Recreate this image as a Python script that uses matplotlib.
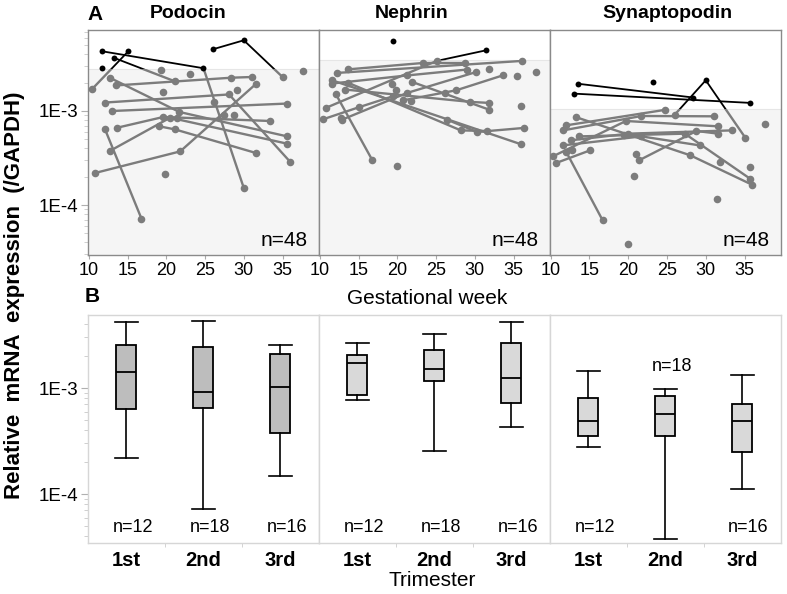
import matplotlib
matplotlib.use("Agg")
import matplotlib.pyplot as plt
from matplotlib.patches import Rectangle
from matplotlib.ticker import FixedLocator, NullFormatter, LogLocator
import matplotlib.transforms as mtransforms

plt.rcParams['font.family'] = ['Liberation Sans', 'DejaVu Sans']

# ---- panel A: paired samples per fetus (gestational week, expression) ----
genes = ["Podocin", "Nephrin", "Synaptopodin"]

pod_weeks = [[11.7, 24.8, 30.0], [13.2, 21.1], [10.4, 15.1], [26.0, 30.0, 35.0],
             [12.7, 21.7, 35.6], [13.5, 28.4, 31.1], [12.1, 28.1, 36.0], [13.0, 35.6],
             [13.7, 19.6, 33.4], [12.1, 16.8], [12.7, 20.5, 35.6], [10.8, 21.8, 31.6],
             [19.1, 21.1, 31.6]]
pod_values = [[4.32e-3, 2.85e-3, 1.52e-4], [3.69e-3, 2.07e-3], [1.70e-3, 4.32e-3],
              [4.53e-3, 5.65e-3, 2.30e-3], [2.26e-3, 9.76e-4, 5.37e-4],
              [1.87e-3, 2.26e-3, 2.30e-3], [1.23e-3, 1.50e-3, 2.87e-4], [1.0e-3, 1.20e-3],
              [6.65e-4, 8.63e-4, 7.83e-4], [6.38e-4, 7.16e-5], [3.75e-4, 8.49e-4, 4.49e-4],
              [2.19e-4, 3.72e-4, 1.95e-3], [6.87e-4, 6.38e-4, 3.57e-4]]
pod_single_wk = [11.7, 19.3, 23.1, 37.6, 19.6, 26.1, 28.8, 21.4, 19.9, 27.4, 29.1]
pod_single_val = [2.85e-3, 2.71e-3, 2.49e-3, 2.64e-3, 1.59e-3, 1.25e-3, 9.14e-4,
                  8.49e-4, 2.15e-4, 9.14e-4, 1.69e-3]

neph_weeks = [[13.6, 23.3, 28.7], [12.2, 36.1], [10.8, 25.1, 31.4], [11.6, 21.3, 29.0],
              [13.3, 29.4, 31.8], [11.6, 36.0], [13.7, 28.2, 31.6], [12.1, 16.8],
              [10.4, 15.1, 19.4], [12.9, 21.2, 30.2], [20.8, 27.6, 33.6], [21.9, 31.9],
              [26.4, 30.3, 36.3]]
neph_values = [[2.77e-3, 3.24e-3, 3.24e-3], [2.54e-3, 3.41e-3], [1.08e-3, 3.41e-3, 4.41e-3],
               [1.96e-3, 2.39e-3, 2.76e-3], [1.69e-3, 1.25e-3, 1.22e-3], [2.12e-3, 4.42e-4],
               [1.99e-3, 6.22e-4, 6.13e-4], [1.50e-3, 2.98e-4], [8.15e-4, 1.10e-3, 1.43e-3],
               [8.10e-4, 1.55e-3, 2.60e-3], [1.30e-3, 1.66e-3, 2.39e-3], [2.04e-3, 1.03e-3],
               [8.10e-4, 5.98e-4, 6.60e-4]]
neph_single_wk = [19.5, 37.9, 35.4, 36.0, 20.0, 21.8, 12.7, 26.1, 19.9, 31.8, 19.3]
neph_single_val = [5.56e-3, 2.60e-3, 2.34e-3, 1.14e-3, 2.60e-4, 1.27e-3, 8.49e-4,
                   1.55e-3, 1.66e-3, 2.82e-3, 1.96e-3]

syn_weeks = [[13.5, 28.4], [13.0, 35.7], [26.0, 30.0, 35.1], [13.2, 28.0, 36.0],
             [12.0, 24.8], [11.6, 21.7, 31.1], [10.3, 19.7, 31.6], [10.7, 15.1],
             [12.6, 20.0, 33.4], [13.7, 27.3, 35.7], [12.0, 16.7], [11.6, 21.7, 29.2],
             [21.4, 28.8, 31.6]]
syn_values = [[1.95e-3, 1.39e-3], [1.53e-3, 1.22e-3], [9.14e-4, 2.12e-3, 5.20e-4],
              [8.63e-4, 3.38e-4, 1.64e-4], [7.04e-4, 1.03e-3], [6.22e-4, 8.85e-4, 8.78e-4],
              [3.30e-4, 7.83e-4, 6.87e-4], [2.80e-4, 3.82e-4], [4.88e-4, 5.74e-4, 6.22e-4],
              [5.37e-4, 5.74e-4, 1.91e-4], [3.67e-4, 6.87e-5], [4.31e-4, 5.37e-4, 4.31e-4],
              [2.99e-4, 6.13e-4, 5.74e-4]]
syn_single_wk = [23.2, 37.7, 35.7, 20.8, 31.4, 20.0, 31.8, 21.0, 19.4, 12.7]
syn_single_val = [2.02e-3, 7.33e-4, 2.53e-4, 2.02e-4, 1.15e-4, 3.88e-5, 2.86e-4,
                  3.46e-4, 5.51e-4, 3.82e-4]

# upper limit of the shaded (reference) range in each panel
ref_upper = [2.8e-3, 3.5e-3, 1.06e-3]
n_total = [48, 48, 48]

# ---- panel B: box plots per trimester ----
trimesters = ["1st", "2nd", "3rd"]
pod_box = dict(lo=[2.17e-4, 7.18e-5, 1.49e-4], q1=[6.29e-4, 6.52e-4, 3.79e-4],
               med=[1.43e-3, 9.1e-4, 1.03e-3], q3=[2.55e-3, 2.42e-3, 2.09e-3],
               hi=[4.17e-3, 4.25e-3, 2.53e-3])
neph_box = dict(lo=[7.66e-4, 2.53e-4, 4.29e-4], q1=[8.59e-4, 1.16e-3, 7.18e-4],
                med=[1.73e-3, 1.51e-3, 1.24e-3], q3=[2.03e-3, 2.27e-3, 2.67e-3],
                hi=[2.67e-3, 3.25e-3, 4.22e-3])
syn_box = dict(lo=[2.76e-4, 3.78e-5, 1.11e-4], q1=[3.53e-4, 3.53e-4, 2.51e-4],
               med=[4.92e-4, 5.69e-4, 4.92e-4], q3=[8.0e-4, 8.4e-4, 7.02e-4],
               hi=[1.46e-3, 9.8e-4, 1.33e-3])
n_trim = [12, 18, 16]
n_label_y = [[0.066, 0.066, 0.066], [0.066, 0.066, 0.066], [0.066, 0.776, 0.07]]
box_colors = ["#bdbdbd", "#d9d9d9", "#d9d9d9"]

GRAY = "#7c7c7c"

fig = plt.figure(figsize=(7.87, 5.94), dpi=100)
lefts = [0.1118, 0.4053, 0.6988]
w = 0.2935

line_data = [(pod_weeks, pod_values, pod_single_wk, pod_single_val),
             (neph_weeks, neph_values, neph_single_wk, neph_single_val),
             (syn_weeks, syn_values, syn_single_wk, syn_single_val)]

YA = (2.94e-5, 7.27e-3)
XA = (9.9, 39.7)

for i, (wk, vals, swk, sval) in enumerate(line_data):
    ax = fig.add_axes([lefts[i], 0.5707, w, 0.3788])
    ax.set_yscale('log')
    ax.set_ylim(*YA)
    ax.set_xlim(*XA)
    thr = ref_upper[i]
    ax.axhspan(YA[0], thr, color='#f5f5f5', zorder=0, lw=0)
    ax.axhline(thr, color='#e6e6e6', lw=0.8, zorder=0.5)

    clip_lo = Rectangle((XA[0], YA[0]), XA[1] - XA[0], thr - YA[0], transform=ax.transData)
    clip_hi = Rectangle((XA[0], thr), XA[1] - XA[0], YA[1] - thr, transform=ax.transData)
    for x, y in zip(wk, vals):
        l1, = ax.plot(x, y, color=GRAY, lw=1.7, zorder=2)
        l1.set_clip_path(clip_lo)
        l2, = ax.plot(x, y, color='black', lw=1.3, zorder=2)
        l2.set_clip_path(clip_hi)

    all_x = [a for x in wk for a in x] + swk
    all_y = [a for y in vals for a in y] + sval
    gx = [a for a, b in zip(all_x, all_y) if b < thr]
    gy = [b for b in all_y if b < thr]
    bx = [a for a, b in zip(all_x, all_y) if b >= thr]
    by = [b for b in all_y if b >= thr]
    ax.scatter(gx, gy, s=30, color=GRAY, zorder=3, lw=0)
    ax.scatter(bx, by, s=18, color='black', zorder=3, lw=0)

    ax.text(0.952, 0.065, "n=%d" % n_total[i], transform=ax.transAxes,
            ha='right', va='center', fontsize=15)

    ax.set_xticks([10, 15, 20, 25, 30, 35])
    ax.tick_params(axis='x', labelsize=13, length=3, color='#aaaaaa', pad=2)
    for s in ax.spines.values():
        s.set_color('#8a8a8a')
        s.set_linewidth(1.0)
    if i == 0:
        ax.yaxis.set_major_locator(FixedLocator([1e-4, 1e-3]))
        ax.set_yticklabels(["1E-4", "1E-3"])
        ax.yaxis.set_minor_locator(LogLocator(base=10, subs=range(2, 10)))
        ax.yaxis.set_minor_formatter(NullFormatter())
        ax.tick_params(axis='y', which='major', labelsize=13.5, length=5,
                       color='#b0b0b0', pad=2)
        ax.tick_params(axis='y', which='minor', length=3, color='#c8c8c8')
    else:
        ax.tick_params(axis='y', which='both', left=False, labelleft=False)

# ---- panel B ----
YB = (3.45e-5, 4.89e-3)
boxes = [pod_box, neph_box, syn_box]
for i, bd in enumerate(boxes):
    ax = fig.add_axes([lefts[i], 0.0859, w, 0.3838])
    ax.set_yscale('log')
    stats = []
    for k in range(3):
        stats.append(dict(med=bd['med'][k], q1=bd['q1'][k], q3=bd['q3'][k],
                          whislo=bd['lo'][k], whishi=bd['hi'][k], fliers=[]))
    bp = ax.bxp(stats, positions=[1, 2, 3], widths=0.26, capwidths=0.29,
                patch_artist=True, showfliers=False,
                boxprops=dict(edgecolor='black', linewidth=1.3),
                medianprops=dict(color='black', linewidth=1.3),
                whiskerprops=dict(color='black', linewidth=1.2),
                capprops=dict(color='black', linewidth=1.2))
    for b in bp['boxes']:
        b.set_facecolor(box_colors[i])
    ax.set_ylim(*YB)
    ax.set_xlim(0.5, 3.5)
    trans = mtransforms.blended_transform_factory(ax.transData, ax.transAxes)
    for k in range(3):
        ax.text(k + 1.08, n_label_y[i][k], "n=%d" % n_trim[k], transform=trans,
                ha='center', va='center', fontsize=13)
    ax.set_xticks([1, 2, 3])
    ax.set_xticklabels(trimesters, fontweight='bold')
    ax.set_xticks([1.5, 2.5], minor=True)
    ax.tick_params(axis='x', which='major', length=0, labelsize=14.5, pad=6)
    ax.tick_params(axis='x', which='minor', length=3, color='#cccccc')
    for s in ax.spines.values():
        s.set_color('#d6d6d6')
        s.set_linewidth(1.0)
    if i == 0:
        ax.yaxis.set_major_locator(FixedLocator([1e-4, 1e-3]))
        ax.set_yticklabels(["1E-4", "1E-3"])
        ax.yaxis.set_minor_locator(LogLocator(base=10, subs=range(2, 10)))
        ax.yaxis.set_minor_formatter(NullFormatter())
        ax.tick_params(axis='y', which='major', labelsize=13.5, length=5,
                       color='#b0b0b0', pad=2)
        ax.tick_params(axis='y', which='minor', length=3, color='#c8c8c8')
    else:
        ax.tick_params(axis='y', which='both', left=False, labelleft=False)

# titles and labels
title_x = [188, 412, 667]
for i, g in enumerate(genes):
    fig.text(title_x[i] / 787, 1 - 13 / 594, g, ha='center', va='center',
             fontsize=14, fontweight='bold')
fig.text(95 / 787, 1 - 14 / 594, "A", ha='center', va='center', fontsize=15, fontweight='bold')
fig.text(92 / 787, 1 - 296 / 594, "B", ha='center', va='center', fontsize=15, fontweight='bold')
fig.text(427 / 787, 1 - 298 / 594, "Gestational week", ha='center', va='center', fontsize=15)
fig.text(432 / 787, 1 - 580 / 594, "Trimester", ha='center', va='center', fontsize=15)
fig.text(15 / 787, 1 - 295 / 594, "Relative  mRNA  expression  (/GAPDH)", rotation=90,
         ha='center', va='center', fontsize=16, fontweight='bold')

fig.savefig("out.png", dpi=100)
